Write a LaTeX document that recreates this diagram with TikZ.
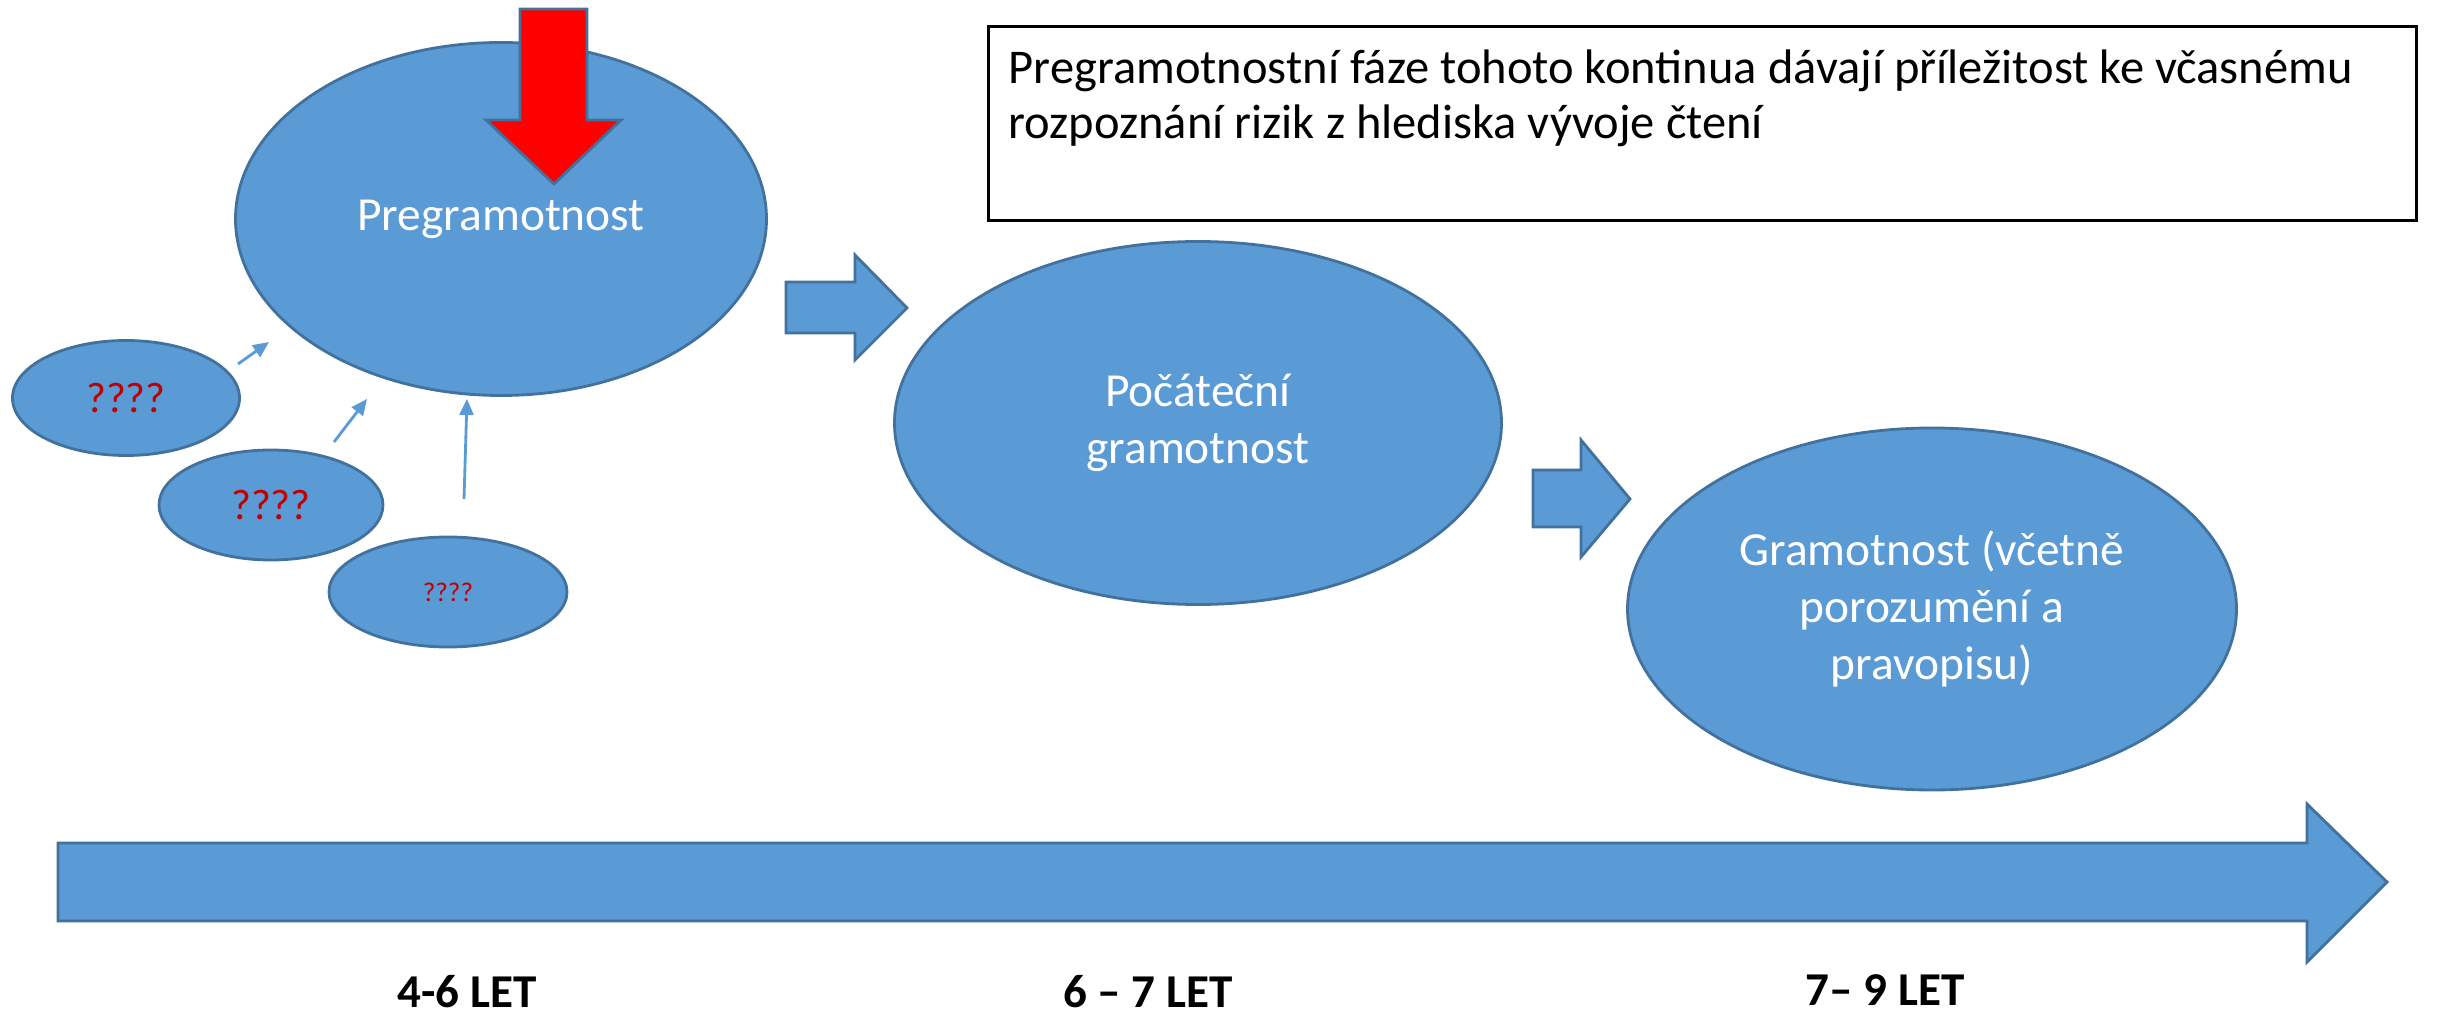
\documentclass[tikz,border=0pt]{standalone}
\usepackage{fontspec}
\setmainfont{Carlito}
\usetikzlibrary{shapes.geometric, arrows.meta, positioning}
\definecolor{stagefill}{HTML}{5B9BD5}
\definecolor{stageline}{HTML}{41719C}
\definecolor{guessred}{HTML}{C00000}

\begin{document}
\begin{tikzpicture}[
    stage/.style={ellipse, fill=stagefill, draw=stageline, line width=0.8pt, text=white, align=center, inner sep=0pt, font=\fontsize{13.5}{16.2}\selectfont},
    guess/.style={stage, text=guessred},
    blockarrow/.style={fill=stagefill, draw=stageline, line width=0.8pt},
    feed/.style={-{Triangle[length=1.6mm, width=1.4mm]}, draw=stagefill, line width=0.8pt},
    age/.style={anchor=base, font=\bfseries\fontsize{13.4}{16}\selectfont}
]
    \useasboundingbox (0,0) rectangle (24.45,10.16);

    % Draw the three stages
    \node[stage, minimum width=5.31cm, minimum height=3.53cm] (preg) at (5.01,7.97) {Pregramotnost};
    \node[stage, minimum width=6.07cm, minimum height=3.63cm] (poc) at (11.98,5.93) {Počáteční\\gramotnost};
    \node[stage, minimum width=6.09cm, minimum height=3.62cm] (gram) at (19.32,4.07) {Gramotnost (včetně\\porozumění a\\pravopisu)};

    % Draw the unknown precursors
    \node[guess, minimum width=2.27cm, minimum height=1.15cm, font=\fontsize{12.2}{14}\selectfont] (q1) at (1.26,6.18) {????};
    \node[guess, minimum width=2.24cm, minimum height=1.10cm, font=\fontsize{12.2}{14}\selectfont] (q2) at (2.71,5.11) {????};
    \node[guess, minimum width=2.38cm, minimum height=1.10cm, font=\fontsize{7.7}{9}\selectfont] (q3) at (4.48,4.24) {????};

    % Draw the small arrows towards Pregramotnost
    \coordinate (f1a) at (2.38,6.52);
    \coordinate (f1b) at (2.69,6.74);
    \coordinate (f2a) at (3.34,5.74);
    \coordinate (f2b) at (3.67,6.17);
    \coordinate (f3a) at (4.64,5.17);
    \coordinate (f3b) at (4.67,6.17);
    \draw[feed] (f1a) -- (f1b);
    \draw[feed] (f2a) -- (f2b);
    \draw[feed] (f3a) -- (f3b);

    % Draw the red arrow
    \draw[fill=red, draw=stageline, line width=0.8pt] (5.20,10.07) -- (5.87,10.07) -- (5.87,8.96) -- (6.21,8.96) -- (5.54,8.32) -- (4.86,8.96) -- (5.20,8.96) -- cycle;

    % Draw the block arrows between the stages
    \draw[blockarrow] (7.86,7.34) -- (8.55,7.34) -- (8.55,7.61) -- (9.07,7.08) -- (8.55,6.56) -- (8.55,6.83) -- (7.86,6.83) -- cycle;
    \draw[blockarrow] (15.33,5.46) -- (15.81,5.46) -- (15.81,5.76) -- (16.30,5.17) -- (15.81,4.59) -- (15.81,4.89) -- (15.33,4.89) -- cycle;

    % Draw the note box
    \node[draw, line width=0.8pt, minimum width=14.28cm, minimum height=1.94cm, anchor=north west, inner sep=0pt] (note) at (9.87,9.91) {};
    \node[anchor=north west, align=left, inner sep=0pt, font=\fontsize{13.8}{15.8}\selectfont] (notetext) at ([xshift=0.21cm, yshift=-0.24cm]note.north west) {Pregramotnostní fáze tohoto kontinua dávají příležitost ke včasnému\\rozpoznání rizik z hlediska vývoje čtení};

    % Draw the time axis and the ages
    \draw[blockarrow] (0.58,1.73) -- (23.07,1.73) -- (23.07,2.12) -- (23.87,1.34) -- (23.07,0.54) -- (23.07,0.95) -- (0.58,0.95) -- cycle;
    \node[age] (age1) at (4.67,0.09) {4-6 LET};
    \node[age] (age2) at (11.48,0.09) {6 – 7 LET};
    \node[age] (age3) at (18.85,0.11) {7– 9 LET};
\end{tikzpicture}
\end{document}
